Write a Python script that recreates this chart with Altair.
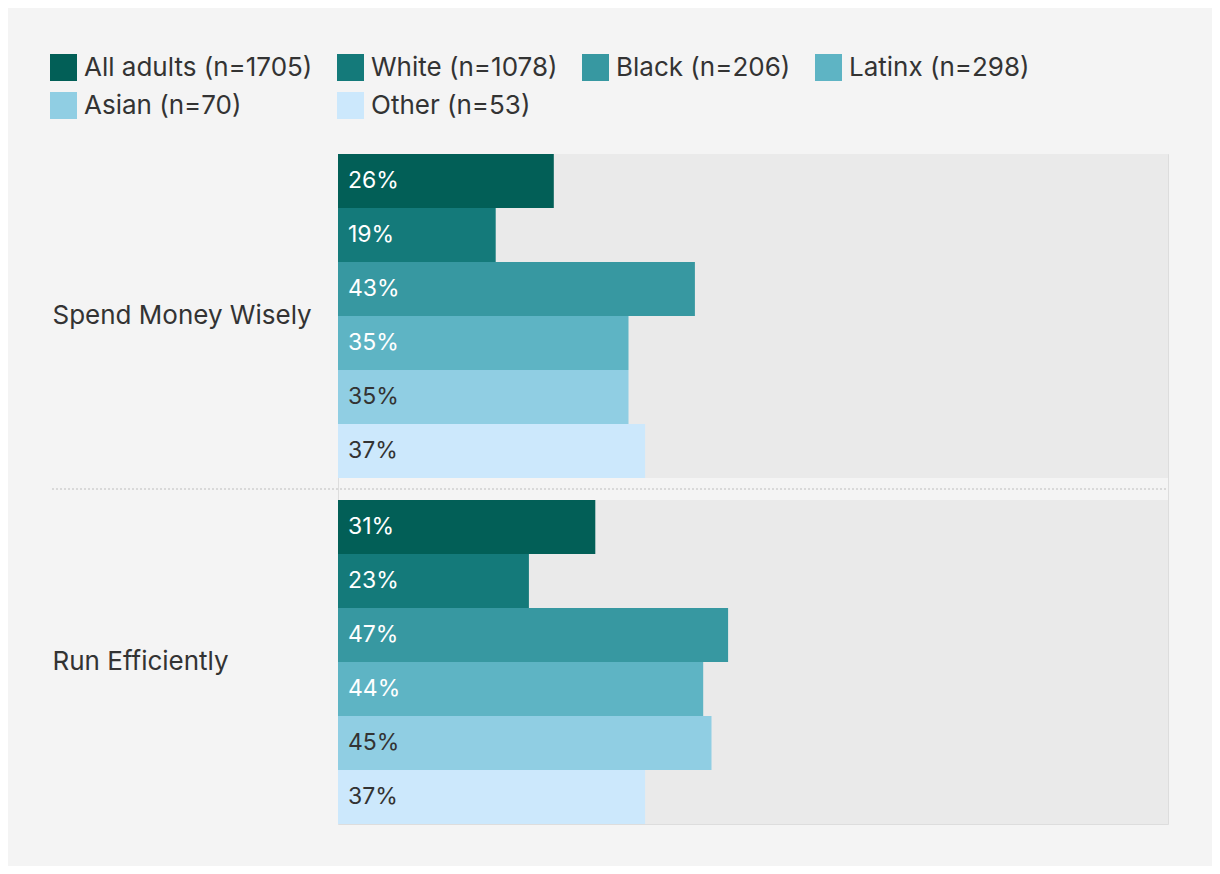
import altair as alt
import pandas as pd

questions = ["Spend Money Wisely", "Run Efficiently"]
groups = ["All adults (n=1705)", "White (n=1078)", "Black (n=206)",
          "Latinx (n=298)", "Asian (n=70)", "Other (n=53)"]
spend_values = [26, 19, 43, 35, 35, 37]
run_values = [31, 23, 47, 44, 45, 37]
colors = ["#025f57", "#147a7a", "#3798a1", "#5eb4c4", "#90cee3", "#cce8fc"]

rows = []
for q, vals in zip(questions, [spend_values, run_values]):
    for g, v in zip(groups, vals):
        rows.append({"question": q, "group": g, "value": v, "label": f"{v}%"})
df = pd.DataFrame(rows)
bg = pd.DataFrame({"question": questions, "full": [100, 100]})
sep = pd.DataFrame({"question": [questions[1]]})

FONT = "Inter"
W, H = 830, 670

yscale = alt.Scale(domain=questions, paddingInner=22 / 346, paddingOuter=0)
yaxis = alt.Axis(title=None, domain=False, ticks=False, labelFontSize=26,
                 labelColor="#333333", labelAlign="left", labelPadding=286,
                 labelBaseline="middle", labelFont=FONT, labelLimit=300)
xscale = alt.Scale(domain=[0, 100], nice=False, zero=True)
yoff = alt.YOffset("group:N", sort=groups,
                   scale=alt.Scale(domain=groups, paddingInner=0, paddingOuter=0))

background = alt.Chart(bg).mark_bar(color="#eaeaea", strokeWidth=0).encode(
    y=alt.Y("question:N", scale=yscale, axis=yaxis, sort=questions),
    x=alt.X("full:Q", scale=xscale, axis=None),
)

bars = alt.Chart(df).mark_bar(strokeWidth=0).encode(
    y=alt.Y("question:N", scale=yscale, axis=yaxis, sort=questions),
    yOffset=yoff,
    x=alt.X("value:Q", scale=xscale, axis=None),
    color=alt.Color("group:N", sort=groups,
                    scale=alt.Scale(domain=groups, range=colors),
                    legend=alt.Legend(title=None, orient="none", legendX=-288,
                                      legendY=-100, direction="horizontal",
                                      columns=4, symbolType="square",
                                      symbolSize=729, symbolOpacity=1,
                                      symbolStrokeWidth=0, labelFontSize=26,
                                      labelFont=FONT, labelColor="#333333",
                                      labelLimit=400, columnPadding=24,
                                      rowPadding=11, labelOffset=7)),
)

labels = alt.Chart(df).mark_text(align="left", baseline="middle", dx=10,
                                 fontSize=23, font=FONT).encode(
    y=alt.Y("question:N", scale=yscale, axis=yaxis, sort=questions),
    yOffset=yoff,
    x=alt.datum(0),
    text="label:N",
    color=alt.condition(
        alt.FieldOneOfPredicate(field="group", oneOf=groups[:4]),
        alt.value("#ffffff"), alt.value("#333333")),
)

separator = alt.Chart(sep).mark_rule(color="#cfcfcf", strokeDash=[2, 2],
                                     strokeWidth=1.5, yOffset=-11).encode(
    y=alt.Y("question:N", scale=yscale, axis=yaxis, sort=questions,
            bandPosition=0),
    x=alt.value(-286),
    x2=alt.value(W),
)

chart = alt.layer(background, bars, labels, separator).properties(
    width=W, height=H,
    autosize=alt.AutoSizeParams(type="none"),
    padding={"left": 330, "top": 146, "right": 44, "bottom": 42},
    background="#f4f4f4",
).configure_view(strokeWidth=0).configure(font=FONT)

chart.save("out.html", embed_options={"renderer": "svg", "actions": False})
